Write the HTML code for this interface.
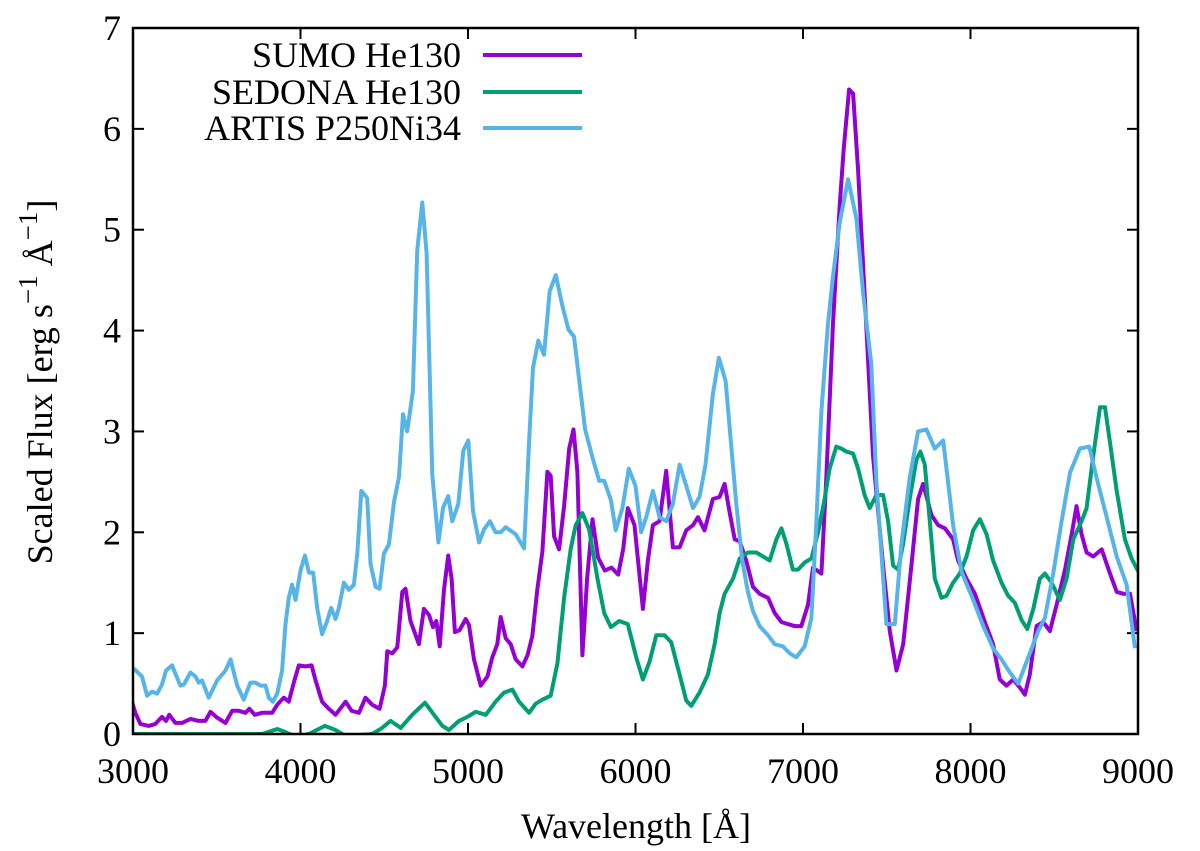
<!DOCTYPE html>
<html><head><meta charset="utf-8">
<style>
html,body{margin:0;padding:0;background:#fff;}
svg, svg text{font-family:"Liberation Serif","Times New Roman","DejaVu Serif",serif;}
svg{display:block;}
</style></head>
<body>
<svg id="chart" width="1200" height="851" viewBox="0 0 1200 851" xmlns="http://www.w3.org/2000/svg" font-family="Liberation Serif, Times New Roman, DejaVu Serif, serif">
<defs><clipPath id="plotclip"><rect x="133" y="28" width="1005" height="706"/></clipPath></defs>
<g id="grid-ticks"></g>
<g id="series" clip-path="url(#plotclip)"></g>
<rect x="133" y="28" width="1005" height="706" fill="none" stroke="#000" stroke-width="2.5"/>
<g id="labels" font-size="36" fill="#000"></g>
<text x="636" y="838" font-size="36" text-anchor="middle">Wavelength [Å]</text>
<text transform="translate(52,382) rotate(-90)" font-size="36" text-anchor="middle">Scaled Flux [erg s<tspan dy="-15" font-size="27">−1</tspan><tspan dy="15"> Å</tspan><tspan dy="-15" font-size="27">−1</tspan><tspan dy="15">]</tspan></text>
<g id="legend" font-size="36"></g>
</svg>
<script>
const xTicks=[3000,4000,5000,6000,7000,8000,9000];
const yTicks=[0,1,2,3,4,5,6,7];
const seriesNames=["SUMO He130","SEDONA He130","ARTIS P250Ni34"];
const seriesColors=["#9400d3","#009e73","#56b4e9"];

const sumoWl=[2994,3014,3044,3094,3134,3173,3197,3217,3253,3293,3343,3392,3432,3462,3496,3552,3592,3631,3671,3695,3727,3771,3831,3861,3900,3930,3960,3990,4030,4066,4090,4129,4169,4209,4269,4305,4349,4388,4428,4472,4504,4518,4548,4578,4608,4627,4657,4707,4737,4767,4791,4811,4831,4857,4882,4902,4922,4950,4986,5006,5036,5076,5116,5145,5175,5195,5225,5255,5285,5325,5355,5384,5414,5444,5474,5494,5514,5544,5574,5604,5630,5653,5683,5711,5743,5777,5817,5857,5897,5927,5954,5994,6044,6074,6104,6143,6183,6223,6263,6303,6343,6373,6412,6462,6502,6532,6562,6592,6622,6661,6701,6741,6791,6831,6871,6910,6950,6990,7030,7060,7110,7139,7179,7219,7243,7275,7299,7329,7368,7418,7478,7518,7558,7598,7647,7687,7717,7767,7807,7847,7896,7926,7976,8026,8086,8135,8175,8215,8255,8295,8325,8354,8394,8434,8474,8514,8564,8604,8633,8663,8693,8733,8783,8833,8873,8912,8952,8992];
const sumoFlux=[0.32,0.21,0.10,0.08,0.10,0.17,0.13,0.19,0.11,0.11,0.15,0.13,0.13,0.22,0.17,0.11,0.23,0.23,0.21,0.25,0.19,0.21,0.21,0.29,0.36,0.32,0.51,0.68,0.67,0.68,0.53,0.32,0.25,0.19,0.32,0.23,0.21,0.36,0.29,0.25,0.48,0.82,0.80,0.86,1.41,1.44,1.12,0.89,1.24,1.18,1.06,1.12,0.87,1.43,1.77,1.54,1.01,1.03,1.14,1.08,0.74,0.48,0.57,0.76,0.89,1.16,0.95,0.89,0.74,0.67,0.78,0.97,1.43,1.81,2.60,2.56,1.96,1.83,2.26,2.83,3.02,2.60,0.78,1.54,2.13,1.75,1.62,1.65,1.58,1.84,2.24,2.07,1.24,1.72,2.07,2.11,2.61,1.85,1.85,2.02,2.07,2.15,2.02,2.33,2.35,2.48,2.20,1.93,1.91,1.72,1.46,1.39,1.35,1.20,1.11,1.09,1.07,1.07,1.28,1.65,1.59,2.54,4.07,5.24,5.80,6.39,6.35,5.59,4.37,2.76,1.67,1.02,0.63,0.89,1.67,2.33,2.48,2.17,2.07,2.04,1.93,1.72,1.54,1.39,1.11,0.89,0.54,0.48,0.54,0.46,0.39,0.59,1.07,1.11,1.02,1.28,1.63,1.98,2.26,1.98,1.80,1.76,1.83,1.59,1.41,1.39,1.39,1.02];

const sedonaWl=[2990,3771,3861,3910,3970,4050,4145,4209,4269,4428,4488,4538,4598,4667,4743,4797,4847,4886,4946,4996,5046,5106,5165,5215,5265,5305,5365,5404,5444,5494,5534,5574,5614,5643,5683,5723,5773,5813,5853,5903,5954,6004,6044,6084,6124,6173,6213,6263,6303,6333,6382,6432,6472,6502,6532,6582,6622,6671,6721,6761,6801,6841,6871,6900,6940,6970,7010,7050,7090,7129,7159,7199,7229,7259,7299,7329,7368,7398,7438,7478,7508,7538,7568,7598,7637,7677,7701,7727,7757,7787,7827,7857,7896,7936,7976,8016,8056,8096,8135,8185,8225,8265,8305,8339,8375,8414,8444,8484,8534,8574,8614,8663,8693,8733,8773,8803,8833,8873,8922,8962,9002];
const sedonaFlux=[0,0,0.05,0.02,-0.03,0,0.08,0.04,-0.02,0,0.06,0.13,0.06,0.19,0.31,0.19,0.08,0.04,0.13,0.17,0.22,0.19,0.32,0.41,0.44,0.32,0.21,0.30,0.34,0.38,0.70,1.35,1.84,2.07,2.19,2.03,1.54,1.20,1.06,1.12,1.09,0.76,0.54,0.72,0.98,0.98,0.91,0.59,0.33,0.28,0.41,0.59,0.89,1.20,1.39,1.54,1.74,1.80,1.80,1.76,1.72,1.93,2.04,1.89,1.63,1.63,1.70,1.74,2.00,2.33,2.63,2.85,2.83,2.80,2.78,2.63,2.37,2.24,2.37,2.37,2.11,1.67,1.63,1.89,2.33,2.72,2.80,2.67,2.11,1.54,1.35,1.37,1.50,1.59,1.76,2.02,2.13,1.98,1.72,1.50,1.37,1.30,1.13,1.04,1.24,1.54,1.59,1.50,1.33,1.54,1.93,2.11,2.24,2.76,3.24,3.24,2.89,2.41,1.93,1.74,1.61];

const artisWl=[3004,3054,3084,3114,3143,3173,3197,3233,3283,3303,3343,3373,3392,3412,3452,3502,3552,3582,3622,3661,3701,3731,3761,3791,3811,3835,3861,3890,3910,3930,3950,3970,4000,4026,4050,4076,4100,4129,4159,4183,4209,4229,4259,4289,4319,4339,4363,4398,4418,4448,4472,4498,4528,4558,4588,4612,4637,4671,4697,4727,4753,4787,4823,4851,4882,4906,4942,4972,5002,5030,5066,5096,5131,5165,5195,5225,5285,5335,5365,5388,5420,5454,5488,5524,5564,5600,5633,5663,5699,5747,5783,5813,5853,5882,5922,5960,6000,6034,6064,6104,6143,6183,6223,6263,6303,6343,6382,6418,6462,6498,6538,6572,6602,6637,6671,6701,6741,6791,6831,6880,6920,6960,7010,7050,7080,7110,7149,7179,7219,7269,7319,7359,7408,7438,7498,7548,7588,7637,7687,7737,7787,7837,7896,7946,8016,8076,8135,8185,8235,8285,8345,8404,8444,8494,8544,8594,8653,8709,8753,8813,8873,8932,8982];
const artisFlux=[0.65,0.57,0.38,0.42,0.40,0.49,0.63,0.68,0.48,0.49,0.61,0.57,0.51,0.53,0.36,0.53,0.63,0.74,0.48,0.34,0.51,0.51,0.48,0.48,0.36,0.32,0.40,0.63,1.08,1.35,1.48,1.33,1.62,1.77,1.60,1.60,1.24,0.99,1.12,1.25,1.14,1.25,1.50,1.43,1.48,1.79,2.41,2.34,1.69,1.46,1.44,1.79,1.88,2.30,2.55,3.17,3.00,3.40,4.79,5.27,4.77,2.57,1.90,2.24,2.36,2.11,2.28,2.81,2.91,2.21,1.90,2.03,2.11,2.00,2.00,2.05,1.98,1.84,2.90,3.63,3.90,3.76,4.39,4.55,4.24,4.01,3.94,3.52,3.02,2.72,2.51,2.51,2.32,2.02,2.24,2.63,2.46,2.00,2.15,2.41,2.15,2.11,2.28,2.67,2.46,2.24,2.35,2.67,3.37,3.73,3.50,2.85,2.28,1.72,1.41,1.22,1.07,0.98,0.89,0.87,0.80,0.76,0.87,1.15,2.11,3.20,4.07,4.54,5.07,5.50,5.11,4.37,3.67,2.50,1.09,1.09,1.89,2.54,3.00,3.02,2.83,2.91,2.07,1.61,1.33,1.07,0.85,0.74,0.61,0.50,0.76,1.02,1.15,1.59,2.11,2.59,2.83,2.85,2.54,2.15,1.76,1.48,0.85];

const X0=133,X1=1138,Y0=734,Y1=28;
function xs(w){return X0+(w-3000)/(9000-3000)*(X1-X0);}
function ys(v){return Y0-(v/7)*(Y0-Y1);}
const NS="http://www.w3.org/2000/svg";
function mk(tag,attrs){const e=document.createElementNS(NS,tag);for(const k in attrs)e.setAttribute(k,attrs[k]);return e;}

const ticksG=document.getElementById('grid-ticks');
const labG=document.getElementById('labels');
xTicks.forEach(t=>{
  const x=xs(t);
  const a=mk('line',{x1:x,y1:Y0,x2:x,y2:Y0-11,stroke:'#000','stroke-width':2});
  
  
  ticksG.appendChild(a);
  const b=mk('line',{x1:x,y1:Y1,x2:x,y2:Y1+11,stroke:'#000','stroke-width':2});
  
  
  ticksG.appendChild(b);
  const l=mk('text',{x:x,y:783,'text-anchor':'middle'});
  
  
  l.textContent=t;labG.appendChild(l);
});
yTicks.forEach(t=>{
  const y=ys(t);
  const a=mk('line',{x1:X0,y1:y,x2:X0+11,y2:y,stroke:'#000','stroke-width':2});
  
  
  ticksG.appendChild(a);
  const b=mk('line',{x1:X1,y1:y,x2:X1-11,y2:y,stroke:'#000','stroke-width':2});
  
  
  ticksG.appendChild(b);
  const l=mk('text',{x:121,y:y+12,'text-anchor':'end'});
  
  
  l.textContent=t;labG.appendChild(l);
});

const serG=document.getElementById('series');
const allWl=[sumoWl,sedonaWl,artisWl],allFlux=[sumoFlux,sedonaFlux,artisFlux];
const keys=['sumo-he130-line','sedona-he130-line','artis-p250ni34-line'];
for(let s=0;s<3;s++){
  const pts=allWl[s].map((w,i)=>xs(w).toFixed(1)+','+ys(allFlux[s][i]).toFixed(1)).join(' ');
  const p=mk('polyline',{points:pts,fill:'none',stroke:seriesColors[s],'stroke-width':4,'stroke-linejoin':'round'});
  
  
  serG.appendChild(p);
}

const legG=document.getElementById('legend');
const legY=[55,92,128];
for(let s=0;s<3;s++){
  const t=mk('text',{x:461,y:legY[s]+12,'text-anchor':'end'});
  
  
  t.textContent=seriesNames[s];legG.appendChild(t);
  const l=mk('line',{x1:483,y1:legY[s],x2:582,y2:legY[s],stroke:seriesColors[s],'stroke-width':4});
  
  
  legG.appendChild(l);
}
</script>
</body></html>
